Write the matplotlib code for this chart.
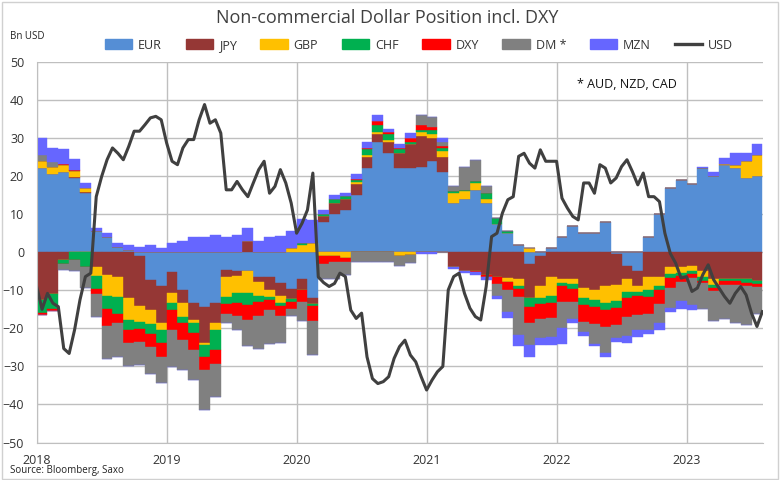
import numpy as np
import matplotlib
matplotlib.use('Agg')
import matplotlib.pyplot as plt
from matplotlib.patches import Patch, Rectangle
from matplotlib.lines import Line2D

plt.rcParams['font.family'] = ['Open Sans', 'DejaVu Sans']

# monthly positions (Bn USD), Jan 2018 .. Jul 2023
eur = [22, 20.5, 21, 19.5, 15.5, 5.5, 4, 1.5, 0.5, -1, -7.3, -9,
       -5.1, -9.9, -13.4, -14.3, -13.4, -4.6, -5, -5, -6.4, -6.4, -8, -9.6,
       -7, -12, 8, 10, 11, 15, 22, 29, 26, 22, 22, 22.5,
       24, 21, 13, 14, 16.4, 13, 7.5, 5, 2, -3, -1, 1,
       4, 7, 5, 5, 8, -0.5, -3.5, -5, 4, 10, 17, 19,
       18, 22, 20, 23, 22, 19.5, 20]
jpy = [-12.5, -11, -2, 0.3, 0.3, -4, -6, -6.4, -12, -13, -8, -9.6,
       -5.7, -3.5, -4.4, -9.6, -5.3, -1.8, -1.3, 3, -1.5, -3.5, -3.5, -2.6,
       -3, -1.5, 1.5, 3, 3, 3, 3, 2, 3, 4, 6.5, 8,
       6, 4, -4, -5, -5, -6, -6.4, -6.8, -7, -9, -8, -6.5,
       -7, -7, -9.5, -10, -9, -8, -3.5, -4, -6.4, -6.4, -4, -4,
       -3.5, -5, -7, -7, -7, -7, -7.5]
gbp = [2, 1.8, 1.8, 1.5, 1, -2.2, -5.5, -5.3, -5.7, -4.4, -3.5, -1.8,
       -2.6, -3.5, -0.9, -0.4, -1.8, -5.3, -4.4, -5.7, -3.5, -1.8, -1.8, 1,
       2, 2.5, -1, -1, -1.5, 0.5, 0.5, 0.5, 0.5, -1, -0.8, 1,
       1, 1.5, 2.5, 2, 1.8, 1, 0, -1, -2, 1.2, -3, -5,
       -1, -1.3, -2.6, -2.6, -4.4, -4.4, -3.5, -1.5, -3.5, -2.6, -1.8, -1.5,
       -1.5, -1.5, -1.5, 0.3, 1, 4.5, 5.5]
chf = [-3.5, -4, -1.2, -2, -4, -3.5, -3.5, -4.4, -2.6, -1.8, -2.6, -3.5,
       -1.8, -1.8, -2.6, -3.1, -5.3, -1.8, -2.6, -3.1, -1.8, -0.9, -0.9, -0.9,
       0.3, -0.5, 0.5, 1, 0.8, 0.5, 1.5, 2, 1.5, 1, 0.5, 0.5,
       1, 1, 0.5, 0.3, 0.5, 1.5, 1.5, 0.5, -0.7, -2.5, -1.5, -1.8,
       -1, -1.3, -1.8, -1.8, -1.8, -1.8, -1.5, -1, -1.8, -1, -1, -0.8,
       -0.8, -1, -0.8, -0.5, -0.5, -1, -0.8]
dxy = [-0.6, -0.4, 0.3, 0.2, 0, -1.2, -4.5, -2.6, -3.5, -3.5, -3.5, -3.5,
       -5.3, -4.4, -4.4, -3.5, -3.5, -2.6, -3.5, -3.9, -3.5, -2.6, -2.6, -1.8,
       -3, -4, -2, -1.5, -1, 0.3, 0.5, 1, 0.5, 0.5, 1, 1.5,
       1, 0.5, 0, 0, -0.3, -0.5, -2, -2, -2, -4, -4, -4,
       -4, -3.5, -4.4, -4.4, -4.4, -4.4, -5, -5, -4.4, -3.5, -2.6, -1.5,
       -1, -0.5, -0.8, -1, -1, -1, -0.8]
dm = [1.5, 1.5, -1.5, -3, -5.5, -6, -8.5, -8.8, -6, -6, -7, -7,
      -9.6, -7.9, -7.9, -10.5, -8.8, -2.6, -3.5, -7, -8.8, -8.8, -7, -1.8,
      -5, -9, -4, -4.5, -3.5, -2.5, -2.5, -2.5, -2.5, -2.5, -2, 2.5,
      2.5, 1, 1.5, 6, 5.5, 2, -3, -6, -10, -6, -5, -5,
      -7, -4.4, -2.6, -5.3, -7, -3.5, -5, -4, -4.4, -5, -5.3, -5,
      -7, -7, -8, -9, -10, -10, -7]
mzn = [4.5, 3.5, 4, 3, 1.5, 0.8, 1, 1, 1.5, 1.5, 2, 1,
       2.5, 3, 4, 4, 4.5, 4, 4.5, 3.3, 3, 4, 4.2, 4.5,
       6.5, 6, 1, 1, 0.8, 1.2, 1.5, 1.5, 1, 1, 1.2, -0.5,
       -0.5, 1, -0.5, -0.5, -0.8, -0.8, -1, -1.5, -3, -3, -2, -2,
       -4, -1, -1, -0.5, -1, -1, -1.8, -1.8, -1, -1.8, -1, -2,
       -1.5, 0.5, 1, 1.5, 3, 2, 3]

# USD net position, twice a month, 1 Jan 2018 .. 1 Aug 2023
usd = [-9, -15, -10.8, -13.4, -14.3, -25.3, -26.6, -20.4, -12.5, -6.4, -5.5, 14.6,
       19.9, 24.3, 27.4, 26, 24.3, 27.8, 31.8, 31.8, 33.5, 35.3, 35.7, 34.8,
       28.7, 23.9, 23, 27.4, 29.6, 29.6, 34.8, 38.8, 33.9, 34.8, 31.3, 16.4,
       16.4, 18.6, 16.4, 14.6, 18.2, 21.7, 23.9, 15.5, 17.3, 21.7, 18.2, 12.9,
       5, 7.6, 11.1, 20.8, -6.5, -8, -9, -8.2, -5.5, -6.4, -15.2, -17.4,
       -16, -27.5, -33.2, -34.5, -34, -32.7, -27.9, -24.8, -23.1, -27, -28.8, -32.7,
       -36.2, -33.6, -31.4, -30, -9.9, -6.4, -5.5, -10.8, -14.7, -16.9, -17.8, -9,
       4.1, 5, 10.3, 13.8, 14.6, 25.2, 26, 23.4, 22.1, 26.9, 23.9, 23.9,
       23.9, 14.2, 11.6, 9.4, 8.5, 18.2, 18.2, 15.5, 23, 22.1, 18.2, 19.5,
       22.5, 24.3, 21.2, 17.7, 20.8, 14.6, 14.6, 13.3, 5, -0.3, -2.9, -6.8,
       -6.4, -10.3, -9.4, -5.9, -3.3, -7.2, -9.4, -11.6, -13.4, -10.8, -9, -11.2,
       -16, -19.5, -15.6]

years = [2018, 2019, 2020, 2021, 2022, 2023]

series = [('EUR', eur, '#558ed5'), ('JPY', jpy, '#953735'),
          ('GBP', gbp, '#ffc000'), ('CHF', chf, '#00b050'),
          ('DXY', dxy, '#ff0000'), ('DM *', dm, '#808080'),
          ('MZN', mzn, '#6666ff')]

n = len(eur)
x_bar = 2018 + np.arange(n) / 12
x_usd = 2018 + np.arange(len(usd)) / 24

fig = plt.figure(figsize=(7.8, 4.8), dpi=100)
ax = fig.add_axes([0.047, 0.078, 0.931, 0.793])

# Excel-style stacking: positives upward, negatives downward
pos_base = np.zeros(n)
neg_base = np.zeros(n)
for name, vals, col in series:
    v = np.array(vals, dtype=float)
    pos = np.where(v > 0, v, 0)
    neg = np.where(v < 0, v, 0)
    ax.bar(x_bar, pos, width=1/12, bottom=pos_base, align='edge',
           color=col, edgecolor=col, linewidth=0.3)
    ax.bar(x_bar, neg, width=1/12, bottom=neg_base, align='edge',
           color=col, edgecolor=col, linewidth=0.3)
    pos_base += pos
    neg_base += neg

ax.plot(x_usd, usd, color='#404040', lw=2.2, solid_joinstyle='round')

ax.set_xlim(2018, 2023.587)
ax.set_ylim(-50, 50)
ax.set_yticks(range(-50, 51, 10))
ax.set_xticks(years)
ax.set_xticklabels([str(y) for y in years])
ax.tick_params(length=0, labelsize=9, colors='#333333')
ax.tick_params(axis='x', pad=8)
ax.tick_params(axis='y', pad=9)
ax.grid(True, color='#bfbfbf', lw=1)
ax.set_axisbelow(True)
for s in ['top', 'right']:
    ax.spines[s].set_visible(False)
for s in ['left', 'bottom']:
    ax.spines[s].set_color('#bfbfbf')

fig.text(0.496, 0.962, 'Non-commercial Dollar Position incl. DXY',
         ha='center', va='center', fontsize=13, color='#404040')
fig.text(0.013, 0.923, 'Bn USD', fontsize=7, va='center', color='#222222')
fig.text(0.74, 0.825, '* AUD, NZD, CAD', fontsize=9, va='center', color='#111111')
fig.text(0.013, 0.019, 'Source: Bloomberg, Saxo', fontsize=7, va='center',
         color='#222222')

handles = [Patch(color=c, label=nm) for nm, v, c in series]
handles.append(Line2D([], [], color='#404040', lw=2.4, label='USD'))
fig.legend(handles=handles, loc='center', bbox_to_anchor=(0.537, 0.906), ncol=8,
           frameon=False, fontsize=9, handlelength=2.2, handleheight=0.8,
           columnspacing=1.9, handletextpad=0.45, labelcolor='#333333')

fig.add_artist(Rectangle((0.002, 0.003), 0.995, 0.993, transform=fig.transFigure,
                         fill=False, ec='#d0d0d0', lw=1))

fig.savefig('out.png', dpi=100)
